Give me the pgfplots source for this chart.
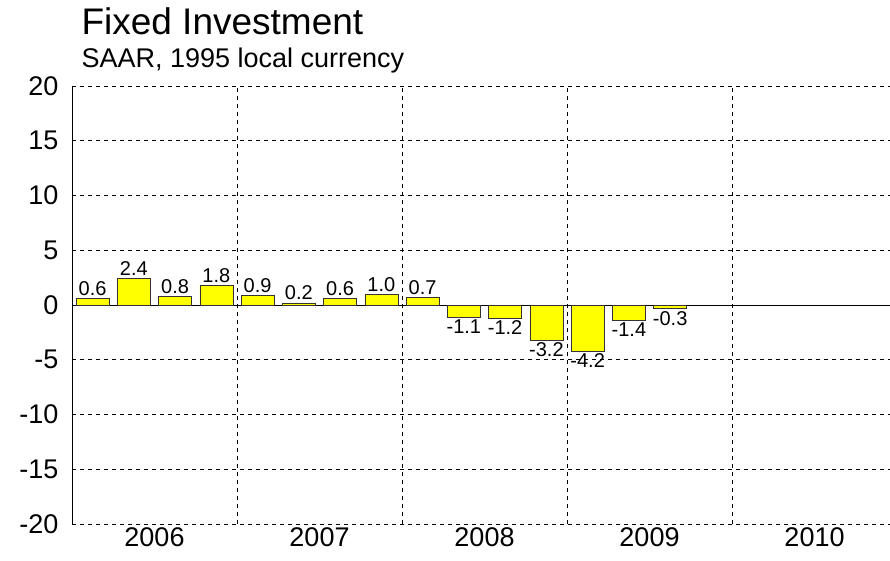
\documentclass[border=0pt]{standalone}
\usepackage{fontspec}
\setmainfont{Liberation Sans}
\usepackage{pgfplots}
\pgfplotsset{compat=1.18}
\definecolor{baryellow}{RGB}{255,255,0}

\begin{document}
\begin{tikzpicture}[x=1pt,y=1pt]
\begin{axis}[
  at={(0,0)}, anchor=south west,
  scale only axis, width=818pt, height=438pt,
  xmin=-0.5, xmax=19.33, ymin=-20, ymax=20,
  axis y line*=left, axis x line*=bottom,
  x axis line style={draw=none},
  y axis line style={black, line width=0.8pt},
  ytick={-20,-15,...,20},
  xtick={1.5,5.5,9.5,13.5,17.5},
  xticklabels={2006,2007,2008,2009,2010},
  extra x ticks={3.5,7.5,11.5,15.5},
  extra x tick labels={},
  extra x tick style={grid=major},
  extra y ticks={0}, extra y tick labels={},
  extra y tick style={grid=major, major grid style={solid, black, line width=1pt}},
  ymajorgrids,
  major grid style={black, line width=0.6pt, dash pattern=on 4pt off 4pt},
  major tick length=0pt,
  tick label style={font=\fontsize{27}{32}\selectfont},
  yticklabel style={xshift=-10pt},
  /pgf/number format/assume math mode=true,
  ybar, bar width=33pt,
  nodes near coords,
  nodes near coords style={font=\fontsize{20}{24}\selectfont, inner sep=2.5pt,
    /pgf/number format/.cd, fixed, fixed zerofill, precision=1, assume math mode=true},
]
\addplot[fill=baryellow, draw=black!80, line width=0.6pt] coordinates {
  (0,0.6) (1,2.4) (2,0.8) (3,1.8)
  (4,0.9) (5,0.2) (6,0.6) (7,1.0)
  (8,0.7) (9,-1.1) (10,-1.2) (11,-3.2)
  (12,-4.2) (13,-1.4) (14,-0.3)};
\end{axis}
\node[anchor=base west, font=\fontsize{37}{42}\selectfont] at (6,489) {Fixed Investment};
\node[anchor=base west, font=\fontsize{27}{32}\selectfont] at (6,456) {SAAR, 1995 local currency};
\pgfresetboundingbox
\path (-72,-36) rectangle (818,524);
\end{tikzpicture}
\end{document}
